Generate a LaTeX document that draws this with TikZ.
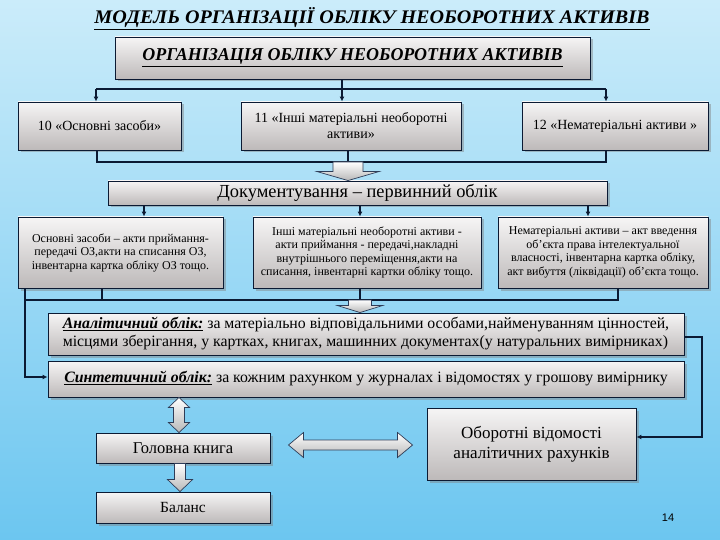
\documentclass[tikz,border=0pt]{standalone}
\usepackage{graphicx}
\usepackage{fontspec}
\setmainfont{Liberation Serif}
\newfontfamily\pagenumfont{Liberation Sans}
\usetikzlibrary{shadows,arrows.meta,calc}
\definecolor{bgtop}{HTML}{CBECFA}
\definecolor{bgbot}{HTML}{6CC6F0}
\definecolor{boxtop}{HTML}{F6F5F5}
\definecolor{boxbot}{HTML}{BDB9B9}
\definecolor{linec}{HTML}{0B1A33}
\definecolor{arrowline}{HTML}{2E3D58}
\newcommand\vdownarrow[5]{%
  \path[barrow] let \p1=(#1), \p2=(#2) in
    (\x1-#3,\y1) -- (\x1+#3,\y1) -- (\x1+#3,\y2+#5) -- (\x1+#4,\y2+#5) -- (\x1,\y2)
    -- (\x1-#4,\y2+#5) -- (\x1-#3,\y2+#5) -- cycle;}
\newcommand\vdoublearrow[5]{%
  \path[barrow] let \p1=(#1), \p2=(#2) in
    (\x1,\y1) -- (\x1+#4,\y1-#5) -- (\x1+#3,\y1-#5) -- (\x1+#3,\y2+#5) -- (\x1+#4,\y2+#5)
    -- (\x1,\y2) -- (\x1-#4,\y2+#5) -- (\x1-#3,\y2+#5) -- (\x1-#3,\y1-#5) -- (\x1-#4,\y1-#5) -- cycle;}
\newcommand\hdoublearrow[5]{%
  \path[barrow] let \p1=(#1), \p2=(#2) in
    (\x1,\y1) -- (\x1+#5,\y1+#4) -- (\x1+#5,\y1+#3) -- (\x2-#5,\y1+#3) -- (\x2-#5,\y1+#4)
    -- (\x2,\y1) -- (\x2-#5,\y1-#4) -- (\x2-#5,\y1-#3) -- (\x1+#5,\y1-#3) -- (\x1+#5,\y1-#4) -- cycle;}
\begin{document}
\begin{tikzpicture}[x=1pt,y=-1pt,
  box/.style={draw=linec, line width=0.9pt, top color=boxtop, bottom color=boxbot,
    drop shadow={shadow xshift=2.5pt, shadow yshift=-2.5pt, opacity=0.45},
    inner sep=1pt, align=center, text=black},
  conn/.style={draw=linec, line width=1.4pt, line join=miter},
  arr/.style={conn, -{Latex[length=5pt,width=5pt]}},
  barrow/.style={draw=arrowline, line width=0.7pt, top color=white, bottom color=black!28},
  f14/.style={font=\fontsize{14}{16}\selectfont},
  fsmall/.style={font=\fontsize{12}{13.5}\selectfont},
  fmid/.style={font=\fontsize{15.8}{18}\selectfont}
]
\useasboundingbox (0,0) rectangle (720,540);
\shade[top color=bgtop, bottom color=bgbot] (0,0) rectangle (720,540);

% title
\node (title) at (372,19) {\resizebox{555pt}{16pt}{\bfseries\itshape\underline{МОДЕЛЬ ОРГАНІЗАЦІЇ ОБЛІКУ НЕОБОРОТНИХ АКТИВІВ}}};

% boxes
\node[box, minimum width=475pt, minimum height=42pt] (top) at (352.5,58)
  {\resizebox{420pt}{12pt}{\bfseries\itshape\underline{ОРГАНІЗАЦІЯ ОБЛІКУ НЕОБОРОТНИХ АКТИВІВ}}};

\node[box, f14, minimum width=163pt, minimum height=48pt] (A) at (99.5,126) {10 «Основні засоби»};
\node[box, f14, minimum width=220pt, minimum height=48pt] (B) at (351,126) {11 «Інші матеріальні необоротні\\активи»};
\node[box, f14, minimum width=186pt, minimum height=48pt] (C) at (615,126) {12 «Нематеріальні активи »};

\node[box, font=\fontsize{18.4}{20}\selectfont, minimum width=499pt, minimum height=24pt, inner sep=0pt] (Doc) at (357.5,193) {Документування – первинний облік};

\node[box, fsmall, minimum width=205pt, minimum height=71pt] (D) at (120.5,252.5)
  {Основні засоби – акти приймання-\\передачі ОЗ,акти на списання ОЗ,\\інвентарна картка обліку ОЗ тощо.};
\node[box, fsmall, minimum width=228pt, minimum height=71pt] (E) at (367,252.5)
  {Інші матеріальні необоротні активи -\\акти приймання - передачі,накладні\\внутрішнього переміщення,акти на\\списання, інвентарні картки обліку тощо.};
\node[box, fsmall, minimum width=210pt, minimum height=71pt] (F) at (603,252.5)
  {Нематеріальні активи – акт введення\\об'єкта права інтелектуальної\\власності, інвентарна картка обліку,\\акт вибуття (ліквідації) об'єкта тощо.};

\node[box, fmid, align=left, minimum width=636pt, minimum height=42pt] (Anal) at (366,334)
  {\textbf{\textit{\underline{Аналітичний облік:}}} за матеріально відповідальними особами,найменуванням цінностей,\\місцями зберігання, у картках, книгах, машинних документах(у натуральних вимірниках)};
\node[box, fmid, align=left, minimum width=636pt, minimum height=36pt] (Synt) at (366,379)
  {\textbf{\textit{\underline{Синтетичний облік:}}} за кожним рахунком у журналах і відомостях у грошову вимірнику};

\node[box, font=\fontsize{16.5}{18}\selectfont, minimum width=174pt, minimum height=30pt] (Golov) at (183,448) {Головна книга};
\node[box, font=\fontsize{15.5}{18}\selectfont, minimum width=174pt, minimum height=31pt] (Balans) at (183,507.5) {Баланс};
\node[box, font=\fontsize{17}{20}\selectfont, minimum width=209pt, minimum height=72pt] (Oborot) at (531.5,444)
  {Оборотні відомості\\аналітичних рахунків};

\node[font=\pagenumfont\fontsize{11}{13}\selectfont] (pnum) at (668,518) {14};

% connectors: top box to row 2
\coordinate (j1) at (342,89);
\coordinate (h1l) at (96,89);
\coordinate (h1r) at (606,89);
\draw[conn] (top.south -| j1) -- (j1);
\draw[conn] (h1l) -- (h1r);
\draw[arr] (h1l) -- (h1l |- A.north);
\draw[arr] (j1) -- (j1 |- B.north);
\draw[arr] (h1r) -- (h1r |- C.north);

% row 2 to documenting
\coordinate (h2l) at (97,162);
\coordinate (h2m) at (348,162);
\coordinate (h2r) at (606,162);
\draw[conn] (A.south -| h2l) -- (h2l) -- (h2r) -- (C.south -| h2r);
\draw[conn] (B.south -| h2m) -- (h2m);
\vdownarrow{h2m}{h2m |- Doc.north}{15pt}{31pt}{9pt}

% documenting to row 3
\coordinate (x1) at (144,0);
\coordinate (x2) at (360,0);
\coordinate (x3) at (588,0);
\draw[arr] (Doc.south -| x1) -- (D.north -| x1);
\draw[arr] (Doc.south -| x2) -- (E.north -| x2);
\draw[arr] (Doc.south -| x3) -- (F.north -| x3);

% row 3 to analytic
\coordinate (h3l) at (25,300);
\coordinate (h3d) at (102,300);
\coordinate (h3m) at (360,300);
\coordinate (h3r) at (618,300);
\draw[conn] (D.south -| h3d) -- (h3d);
\draw[conn] (E.south -| h3m) -- (h3m);
\draw[conn] (h3l) -- (h3r) -- (F.south -| h3r);
\coordinate (sy) at (0,377);
\draw[arr] (D.south -| h3l) -- (h3l |- sy) -- (Synt.west |- sy);
\vdownarrow{h3m}{h3m |- Anal.north}{11.5pt}{22.5pt}{7pt}

% analytic to turnover sheets
\coordinate (rc) at (702,337);
\coordinate (r2) at (702,437);
\draw[arr] (Anal.east |- rc) -- (rc) -- (r2) -- (Oborot.east |- r2);

% block arrows at the bottom
\coordinate (xg) at (179,0);
\coordinate (xb) at (180,0);
\coordinate (hy) at (0,445);
\vdoublearrow{Synt.south -| xg}{Golov.north -| xg}{5.5pt}{10.5pt}{10pt}
\vdownarrow{Golov.south -| xb}{Balans.north -| xb}{5.5pt}{12.5pt}{12pt}
\hdoublearrow{$(Golov.east |- hy)+(18,0)$}{$(Oborot.west |- hy)+(-14,0)$}{5pt}{12.5pt}{15pt}
\end{tikzpicture}
\end{document}
